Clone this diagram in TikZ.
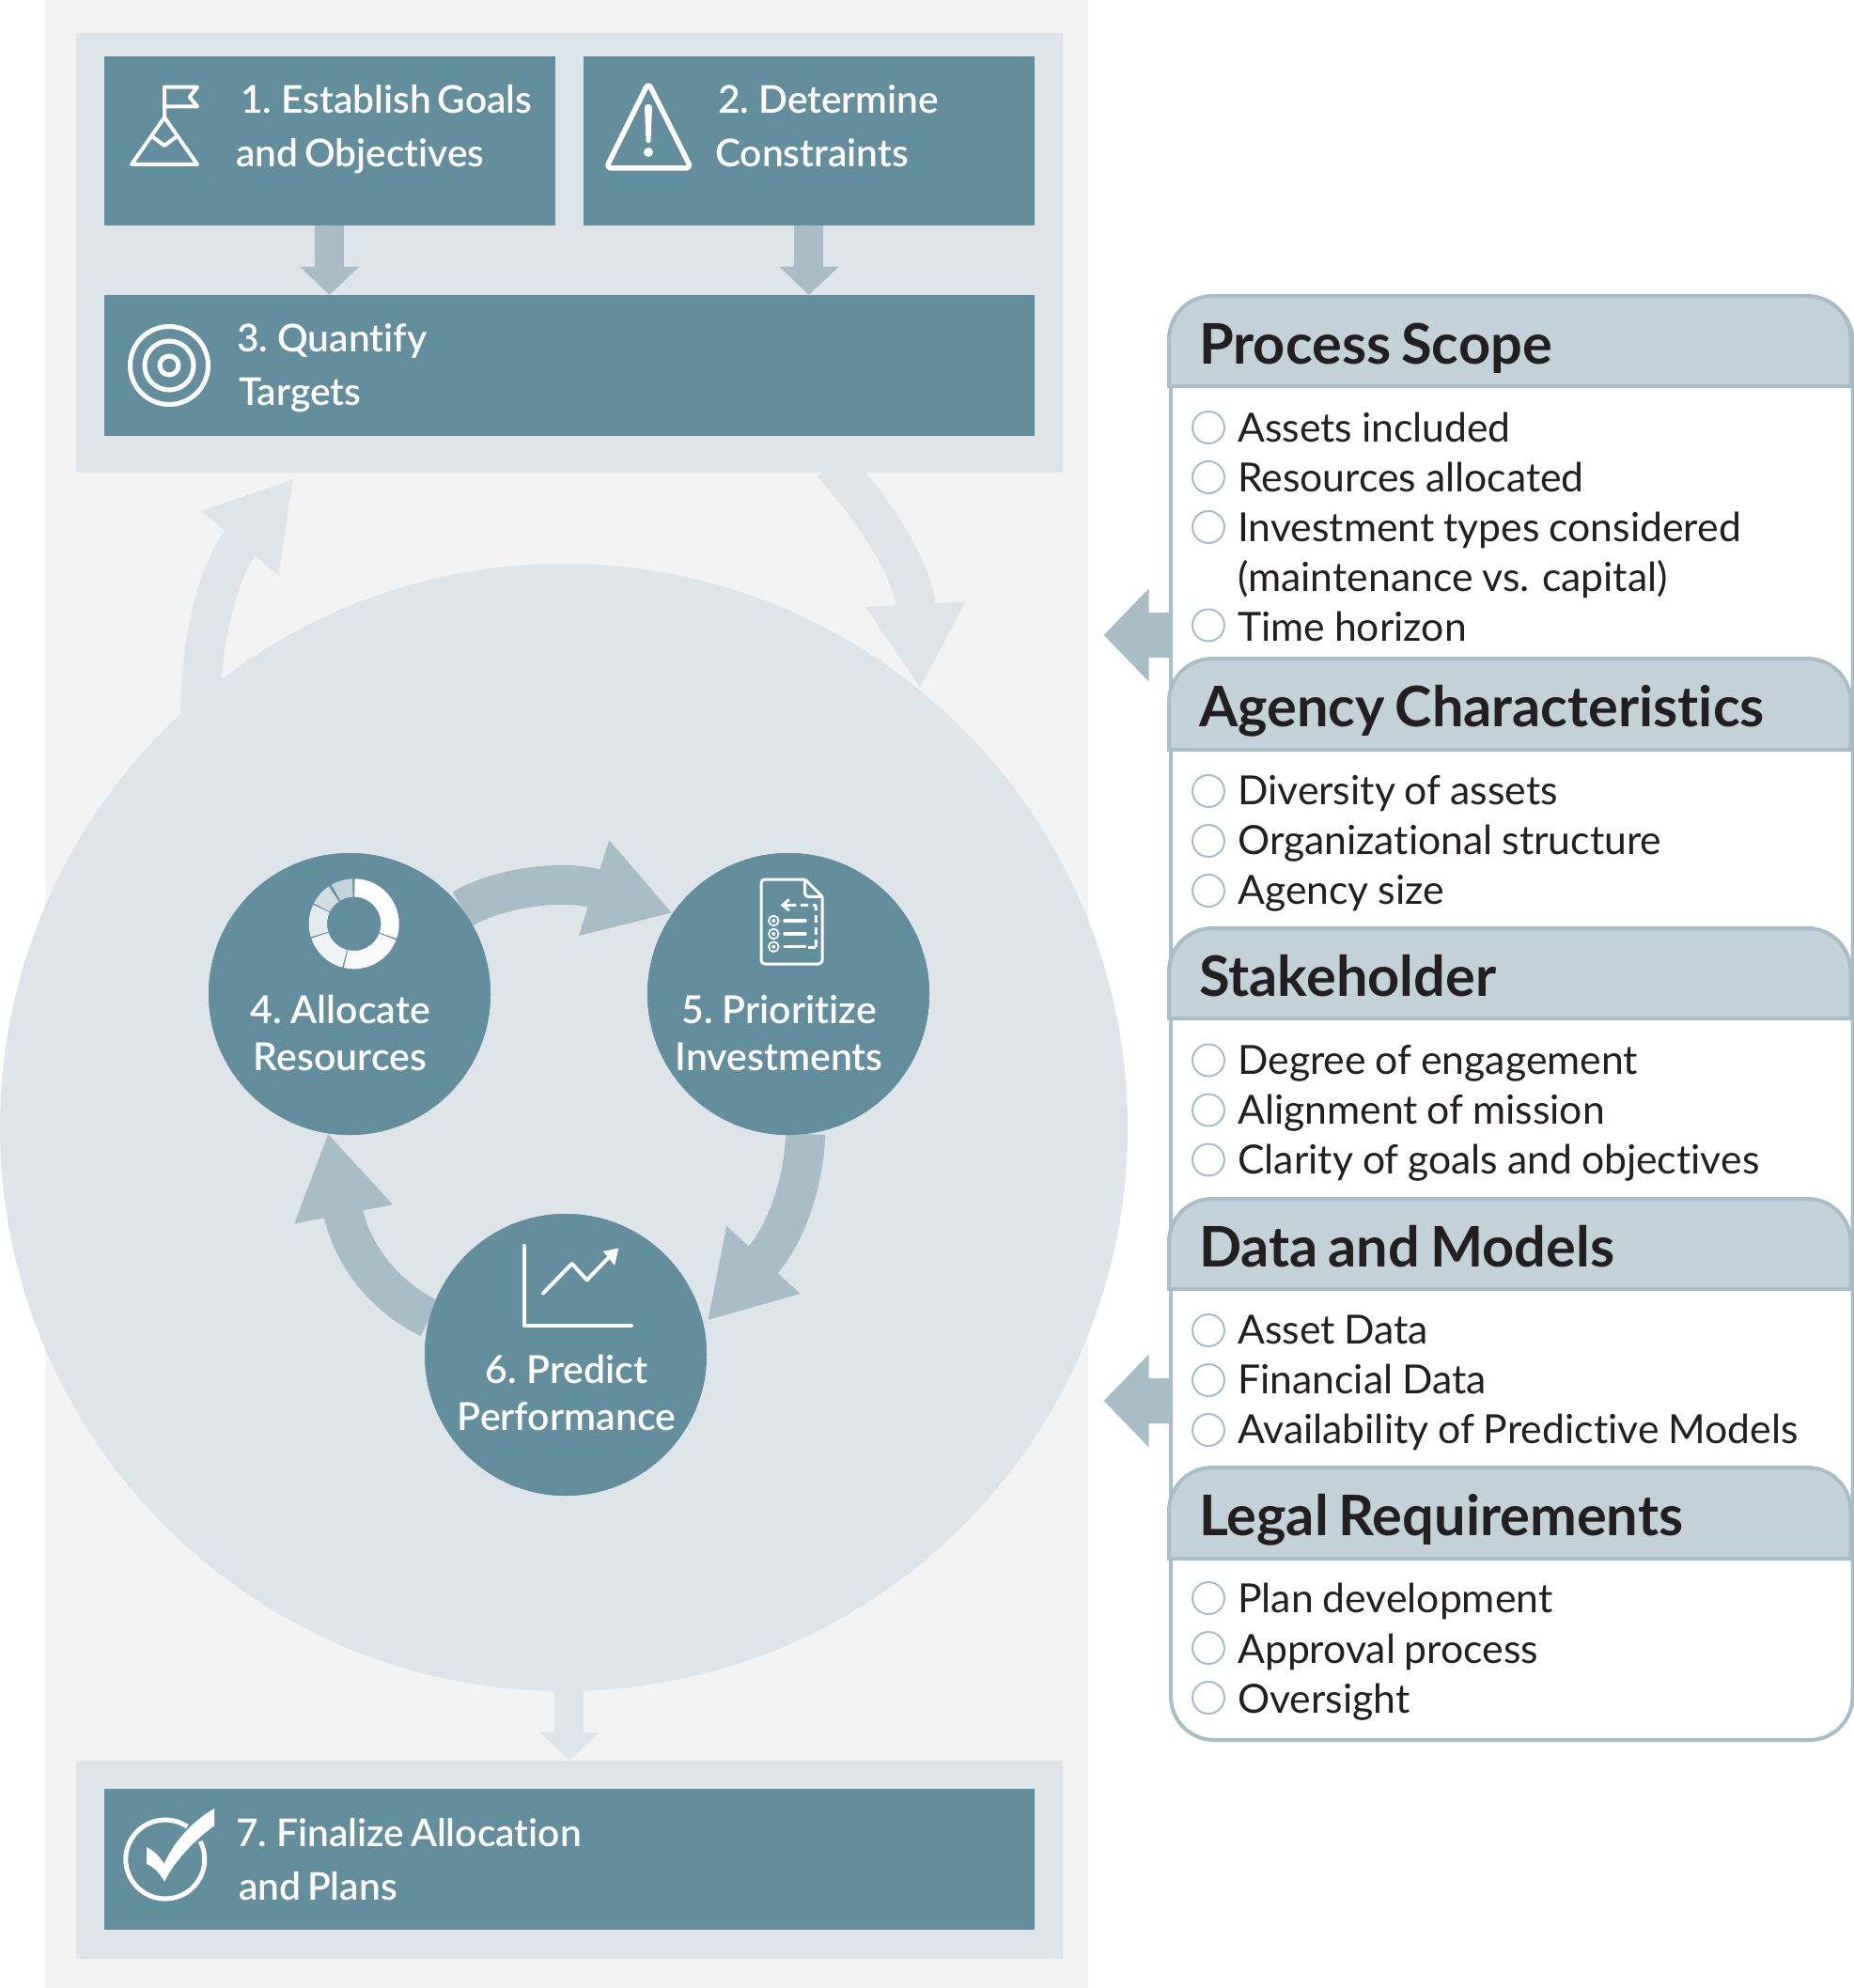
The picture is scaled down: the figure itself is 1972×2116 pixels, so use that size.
\documentclass[tikz,border=0pt]{standalone}
\usepackage{fontspec}
\setmainfont[WordSpace=0.9,Ligatures=NoCommon]{Lato}
\newfontfamily\latomed[WordSpace=0.65,Ligatures=NoCommon]{Lato Semibold}
\newfontfamily\latohead[WordSpace=0.75,Ligatures=NoCommon]{Lato Bold}
\usetikzlibrary{arrows.meta}
\definecolor{teal}{HTML}{628E9E}
\definecolor{flow}{HTML}{A9BDC7}
\definecolor{pale}{HTML}{DDE4EA}
\definecolor{back}{HTML}{F2F2F2}
\definecolor{head}{HTML}{C3D1D9}
\definecolor{ink}{HTML}{231F20}
\tikzset{
  boxnode/.style={fill=teal,draw=none,inner sep=0pt,minimum width=#1},
  panelnode/.style={fill=pale,draw=none,inner sep=0pt},
  cyclenode/.style={circle,fill=teal,draw=none,inner sep=0pt,minimum size=300pt},
  boxtext/.style={anchor=base west,inner sep=0pt,text=white,font=\latomed\fontsize{40.7}{49}\selectfont},
  cycletext/.style={anchor=base,inner sep=0pt,text=white,font=\latomed\fontsize{41}{49}\selectfont},
  htitle/.style={anchor=base west,inner sep=0pt,text=ink,font=\latohead\fontsize{59.5}{70}\selectfont},
  itemtext/.style={anchor=base west,inner sep=0pt,text=ink,font=\fontsize{42.7}{51}\selectfont},
  bullet/.style={circle,draw=flow,line width=2pt,fill=white,inner sep=0pt,minimum size=34pt},
  straightflow/.style={draw=flow,line width=31pt,-{Triangle[length=30pt,width=61pt]}},
  paleflow/.style={draw=pale,line width=31pt,-{Triangle[length=30pt,width=61pt]}},
  sideflow/.style={draw=flow,line width=48pt,-{Triangle[length=48pt,width=96pt]}},
  cycleflow/.style={draw=flow,line width=42pt,-{Triangle[length=88pt,width=100pt]}},
  bigflow/.style={draw=pale,line width=42pt,-{Triangle[length=90pt,width=100pt]}},
  iconline/.style={draw=white,line width=4pt,line join=round,line cap=round},
  panelframe/.style={draw=flow,line width=4pt},
}
\newcommand{\rectbox}[5]{\node[boxnode=#4,minimum height=#5,anchor=north west] (#1) at (#2,#3) {};}
\newcommand{\hdr}[4]{%
  \path[fill=head,panelframe] (1244,#3) -- (1244,#2+46) arc[start angle=180,end angle=270,radius=46] -- (1923.5,#2) arc[start angle=270,end angle=360,radius=46] -- (1969.5,#3) -- cycle;
  \node[htitle] (title#1) at (1276,#2+72.5) {#4};}
\newcommand{\itm}[4]{%
  \node[bullet] (bul#1) at (1286,#2) {};
  \node[itemtext] (txt#1) at (1317,#3) {#4};}
\begin{document}
\begin{tikzpicture}[x=1pt,y=-1pt]
\useasboundingbox (0,0) rectangle (1972,2116);
% background
\node[fill=back,inner sep=0pt,minimum width=1110pt,minimum height=2116pt,anchor=north west] (bg) at (48,0) {};
\node[panelnode,minimum width=1050.5pt,minimum height=468pt,anchor=north west] (top) at (80.5,35) {};
\node[panelnode,minimum width=1050.5pt,minimum height=211pt,anchor=north west] (bottom) at (80.5,1874) {};
\node[circle,fill=pale,inner sep=0pt,minimum size=1200pt] (big) at (600,1200) {};
% boxes
\rectbox{b1}{110.5}{60}{480pt}{180pt}
\rectbox{b2}{620.5}{60}{480.5pt}{180pt}
\rectbox{b3}{110.5}{314}{990.5pt}{150pt}
\rectbox{b7}{110.5}{1904}{990.5pt}{150pt}
% straight arrows
\draw[straightflow] (b1.south) -- (b1.south |- b3.north);
\draw[straightflow] (b2.south) -- (b2.south |- b3.north);
\draw[paleflow] (b7.north |- big.south) -- (b7.north |- bottom.north);
% big curved arrows
\coordinate (ls) at (213,765);
\coordinate (lt) at (313,509);
\coordinate (rs) at (885,493);
\coordinate (rt) at (979,733);
\draw[bigflow] (ls) .. controls (213,690) and (229.4,609) .. (lt);
\draw[bigflow] (rs) .. controls (925,536) and (972.5,605) .. (rt);
% cycle
\node[cyclenode] (c4) at (372,1058) {};
\node[cyclenode] (c5) at (839,1058) {};
\node[cyclenode] (c6) at (602,1442) {};
\draw[cycleflow] (c4.37) .. controls (530,945) and (600,935) .. (c5.145);
\draw[cycleflow] (c5.-83.6) .. controls (855.5,1255) and (838.5,1312.6) .. ([xshift=5pt]c6.14.5);
\draw[cycleflow] (c6.165) .. controls (416,1384) and (375,1341) .. ([xshift=3pt]c4.260.2);
% redraw circles above the tails
\fill[teal] (c4.center) circle[radius=150];
\fill[teal] (c5.center) circle[radius=150];
\fill[teal] (c6.center) circle[radius=150];
% box text
\node[boxtext] (t1a) at (256,121) {1. Establish Goals};
\node[boxtext] (t1b) at (251,178) {and Objectives};
\node[boxtext] (t2a) at (764,121) {2. Determine};
\node[boxtext] (t2b) at (761,178) {Constraints};
\node[boxtext] (t3a) at (252,374) {3. Quantify};
\node[boxtext] (t3b) at (254,431) {Targets};
\node[boxtext] (t7a) at (251,1965) {7. Finalize Allocation};
\node[boxtext] (t7b) at (254,2022) {and Plans};
\node[cycletext] (t4a) at (362,1089) {4. Allocate};
\node[cycletext] (t4b) at (362,1139) {Resources};
\node[cycletext] (t5a) at (829,1089) {5. Prioritize};
\node[cycletext] (t5b) at (829,1139) {Investments};
\node[cycletext] (t6a) at (603,1472) {6. Predict};
\node[cycletext] (t6b) at (603,1522) {Performance};
% icon: flag on mountain
\draw[iconline] (140,175) -- (175,125) -- (210,175) -- cycle;
\draw[iconline] (161.7,145) -- (175,155) -- (188.3,145);
\draw[iconline] (175,125) -- (175,92.7) -- (210,92.7) -- (201.7,103.3) -- (210,113.3) -- (175,113.3);
% icon: warning
\draw[iconline,line width=5.5pt,rounded corners=6pt] (690,88) -- (735.5,179) -- (645,179) -- cycle;
\fill[white] (686,114) .. controls (686,110) and (694,110) .. (694,114) -- (692.5,150) .. controls (692,153) and (688,153) .. (687.5,150) -- cycle;
\fill[white] (690,162) circle[radius=5];
% icon: target
\draw[white,line width=5pt] (180,389) circle[radius=41.5];
\draw[white,line width=5pt] (180,389) circle[radius=26];
\draw[white,line width=5pt] (180,389) circle[radius=10];
% icon: check
\draw[white,line width=5pt] (175.8,1979) ++(-56:42) arc[start angle=-56,end angle=-387,radius=42];
\fill[white] (156,1966) .. controls (164,1970) and (171,1977) .. (174.6,1984) .. controls (186,1958) and (207,1937) .. (228,1925) -- (228,1943.3) .. controls (208,1958) and (186,1980) .. (175,2002.7) .. controls (171,1995) and (164,1987) .. (156,1984) -- cycle;
% icon: donut
\coordinate (dn) at (376.7,983.3);
\foreach \a/\b/\o in {-89/19/100,21/103/96,105/161/89,163/205/83,207/236/71,240/268/62}{
  \fill[white,opacity=\o/100] (dn) ++(\a:48) arc[start angle=\a,end angle=\b,radius=48] -- ++(\b:-19.3) arc[start angle=\b,end angle=\a,radius=28.7] -- cycle;
}
% icon: document
\draw[white,line width=3pt,line join=round,rounded corners=4pt] (856.7,936) -- (810,936) -- (810,1026) -- (875,1026) -- (875,954.3);
\draw[white,line width=3pt,line join=round] (856.7,936) -- (875,954.3);
\draw[white,line width=3pt,line join=round,rounded corners=3pt] (856.7,936) -- (856.7,954.3) -- (875,954.3);
\draw[white,line width=3pt,dash pattern=on 8pt off 5pt,rounded corners=2pt] (868.3,1008) -- (868.3,963.3) -- (840,963.3);
\draw[white,line width=3pt] (860,1008) -- (868.3,1008);
\draw[white,line width=3pt,line cap=round] (839,958) -- (833,963.3) -- (839,968.5);
\draw[white,line width=3pt] (833,963.3) -- (845,963.3);
\foreach \y in {980,994,1007.7}{
  \draw[white,line width=1.8pt] (823.3,\y) circle[radius=5.3];
  \fill[white] (823.3,\y) circle[radius=2];
  \draw[white,line width=3.4pt,line cap=round] (835,\y) -- (857,\y);
}
% icon: chart
\draw[iconline] (557.7,1326) -- (557.7,1411) -- (672,1411);
\draw[iconline] (578,1376.5) -- (608.6,1345) -- (624.6,1362.4) -- (650,1336);
\fill[white] (642,1332) -- (658.4,1328.4) -- (654,1347) -- cycle;
% right side arrows
\coordinate (s1) at (1245,676);
\coordinate (s2) at (1245,1491);
\coordinate (e1) at (1174.5,676);
\coordinate (e2) at (1174.5,1491);
\draw[sideflow] (s1) -- (e1);
\draw[sideflow] (s2) -- (e2);
% right panel
\node[draw=flow,line width=4pt,fill=white,rounded corners=46pt,inner sep=0pt,minimum width=725.5pt,minimum height=1535pt,anchor=north west] (frame) at (1244,315) {};
\hdr{a}{315}{411}{Process Scope}
\itm{a1}{455}{470}{Assets included}
\itm{a2}{508}{523}{Resources allocated}
\itm{a3}{561}{576}{Investment types considered}
\node[itemtext] (txta3b) at (1317,629) {(maintenance vs. capital)};
\itm{a4}{665.5}{682.5}{Time horizon}
\hdr{b}{701}{798}{Agency Characteristics}
\itm{b1}{842}{856}{Diversity of assets}
\itm{b2}{895}{909}{Organizational structure}
\itm{b3}{948}{962}{Agency size}
\hdr{c}{988}{1084}{Stakeholder}
\itm{c1}{1128.5}{1143}{Degree of engagement}
\itm{c2}{1181.5}{1196}{Alignment of mission}
\itm{c3}{1234.5}{1249}{Clarity of goals and objectives}
\hdr{d}{1276}{1372}{Data and Models}
\itm{d1}{1416}{1430}{Asset Data}
\itm{d2}{1469}{1483}{Financial Data}
\itm{d3}{1522}{1536}{Availability of Predictive Models}
\hdr{e}{1562}{1659}{Legal Requirements}
\itm{e1}{1701}{1716}{Plan development}
\itm{e2}{1754}{1770}{Approval process}
\itm{e3}{1807}{1823}{Oversight}
\end{tikzpicture}
\end{document}
